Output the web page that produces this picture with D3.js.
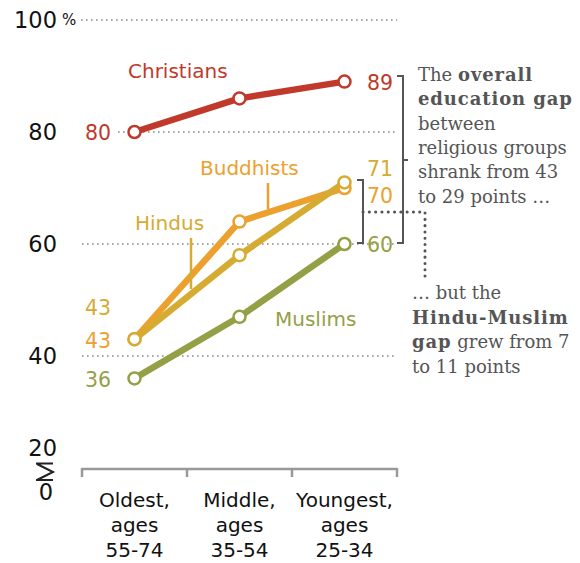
<!DOCTYPE html>
<html><head><meta charset="utf-8">
<script src="https://cdn.jsdelivr.net/npm/d3@7"></script>
<style>body{margin:0;background:#fff}svg{display:block}</style>
</head><body>
<script>
const categories = ["Oldest,|ages|55-74", "Middle,|ages|35-54", "Youngest,|ages|25-34"];
const christians = [80, 86, 89];
const buddhists = [43, 64, 70];
const hindus = [43, 58, 71];
const muslims = [36, 47, 60];
const yTicks = [100, 80, 60, 40];
const seriesNames = ["Christians", "Buddhists", "Hindus", "Muslims"];
const seriesColors = ["#c0392b", "#eca12e", "#d6ab32", "#95a046"];

const W = 580, H = 563;
const svg = d3.select("body").append("svg").attr("width", W).attr("height", H);
const sans = "'DejaVu Sans', Verdana, sans-serif";
const serif = "'DejaVu Serif', Georgia, serif";

const x = d3.scaleBand().domain(categories).range([82, 397]);
const y = d3.scaleLinear().domain([20, 100]).range([468, 20]);
const cx = c => x(c) + x.bandwidth() / 2;

// gridlines
yTicks.forEach(t => {
  svg.append("line").attr("x1", t === 80 ? 118 : (t === 100 ? 81 : 82)).attr("x2", 397)
    .attr("y1", y(t)).attr("y2", y(t))
    .attr("stroke", "#8a8a8a").attr("stroke-width", 1.6).attr("stroke-dasharray", "1.6,3.4");
});
// y tick labels
yTicks.forEach(t => {
  svg.append("text").attr("x", 57).attr("y", y(t)).attr("dy", "0.36em")
    .attr("text-anchor", "end").attr("font-family", sans).attr("font-size", 22.5).attr("fill", "#111").text(t);
});
svg.append("text").attr("x", 62).attr("y", y(100)).attr("dy", "0.36em")
  .attr("font-family", sans).attr("font-size", 15).attr("fill", "#111").text("%");
svg.append("text").attr("x", 57).attr("y", 448).attr("dy", "0.36em")
  .attr("text-anchor", "end").attr("font-family", sans).attr("font-size", 22.5).attr("fill", "#111").text("20");
svg.append("text").attr("x", 46).attr("y", 492).attr("dy", "0.36em")
  .attr("text-anchor", "middle").attr("font-family", sans).attr("font-size", 22.5).attr("fill", "#111").text("0");
svg.append("path").attr("d", "M36,463.5H53M37,464L53,472L37,480M36,480H53")
  .attr("fill", "none").attr("stroke", "#222").attr("stroke-width", 2);

// x axis
const axisG = svg.append("g").attr("transform", "translate(0,469)");
axisG.append("line").attr("x1", 82).attr("x2", 397).attr("stroke", "#999").attr("stroke-width", 2.5);
[82, ...categories.map(c => x(c) + x.bandwidth())].forEach(px => {
  axisG.append("line").attr("x1", px).attr("x2", px).attr("y1", -1).attr("y2", 8)
    .attr("stroke", "#999").attr("stroke-width", 2.5);
});
categories.forEach(c => {
  const t = svg.append("text").attr("text-anchor", "middle").attr("font-family", sans)
    .attr("font-size", 20).attr("fill", "#111");
  c.split("|").forEach((s, i) => {
    t.append("tspan").attr("x", cx(c)).attr("y", 507 + i * 25).text(s);
  });
});

// lines
const allSeries = [christians, buddhists, hindus, muslims];
const line = d3.line().x((d, i) => cx(categories[i])).y(d => y(d));
allSeries.forEach((s, k) => {
  svg.append("path").datum(s).attr("d", line).attr("fill", "none")
    .attr("stroke", seriesColors[k]).attr("stroke-width", 6.5).attr("stroke-linejoin", "round");
});
allSeries.forEach((s, k) => {
  s.forEach((v, i) => {
    svg.append("circle").attr("cx", cx(categories[i])).attr("cy", y(v)).attr("r", 6)
      .attr("fill", "#fff").attr("stroke", seriesColors[k]).attr("stroke-width", 2.5);
  });
});

// value labels
function vlabel(xp, yp, txt, col, anchor) {
  svg.append("text").attr("x", xp).attr("y", yp).attr("dy", "0.36em")
    .attr("text-anchor", anchor).attr("font-family", sans).attr("font-size", 20.5)
    .attr("fill", col).text(txt);
}
vlabel(111, y(christians[0]) + 1, christians[0], seriesColors[0], "end");
vlabel(111, 308, hindus[0], seriesColors[2], "end");
vlabel(111, 341, buddhists[0], seriesColors[1], "end");
vlabel(111, y(muslims[0]) + 1, muslims[0], seriesColors[3], "end");
vlabel(367, y(christians[2]) + 1, christians[2], seriesColors[0], "start");
vlabel(367, 169, hindus[2], seriesColors[2], "start");
vlabel(367, 196, buddhists[2], seriesColors[1], "start");
vlabel(367, y(muslims[2]) + 1, muslims[2], seriesColors[3], "start");

// series labels
function slabel(xp, yp, txt, col) {
  svg.append("text").attr("x", xp).attr("y", yp).attr("dy", "0.36em")
    .attr("font-family", sans).attr("font-size", 20).attr("fill", col).text(txt);
}
slabel(128, 71, seriesNames[0], seriesColors[0]);
slabel(200, 168, seriesNames[1], seriesColors[1]);
slabel(135, 223, seriesNames[2], seriesColors[2]);
slabel(275, 319, seriesNames[3], seriesColors[3]);
svg.append("line").attr("x1", 268).attr("x2", 268).attr("y1", 183).attr("y2", 209)
  .attr("stroke", seriesColors[1]).attr("stroke-width", 2.5);
svg.append("line").attr("x1", 191).attr("x2", 191).attr("y1", 238).attr("y2", 289)
  .attr("stroke", seriesColors[2]).attr("stroke-width", 2.5);

// brackets
const bc = "#555";
svg.append("path").attr("d", "M397,76H403V243H397M403,160H408")
  .attr("fill", "none").attr("stroke", bc).attr("stroke-width", 2);
svg.append("path").attr("d", "M357,180H363V243H357")
  .attr("fill", "none").attr("stroke", bc).attr("stroke-width", 2);
svg.append("path").attr("d", "M363,212H425V280")
  .attr("fill", "none").attr("stroke", bc).attr("stroke-width", 3).attr("stroke-dasharray", "0.1,6.2").attr("stroke-linecap", "round");

// annotations
function para(xp, y0, lh, lines) {
  const t = svg.append("text").attr("font-family", serif).attr("font-size", 18).attr("fill", "#555");
  lines.forEach((ln, i) => {
    const first = t.append("tspan").attr("x", xp).attr("y", y0 + i * lh);
    let started = false;
    ln.forEach(seg => {
      const sp = started ? t.append("tspan") : first;
      sp.text(seg[0]).attr("font-weight", seg[1] ? "bold" : "normal")
        .attr("letter-spacing", seg[1] ? 0.9 : 0);
      started = true;
    });
  });
}
para(418, 81, 24.3, [
  [["The ", 0], ["overall", 1]],
  [["education gap", 1]],
  [["between", 0]],
  [["religious groups", 0]],
  [["shrank from 43", 0]],
  [["to 29 points …", 0]]
]);
para(412, 299, 24.5, [
  [["… but the", 0]],
  [["Hindu-Muslim", 1]],
  [["gap", 1], [" grew from 7", 0]],
  [["to 11 points", 0]]
]);
</script>
</body></html>
